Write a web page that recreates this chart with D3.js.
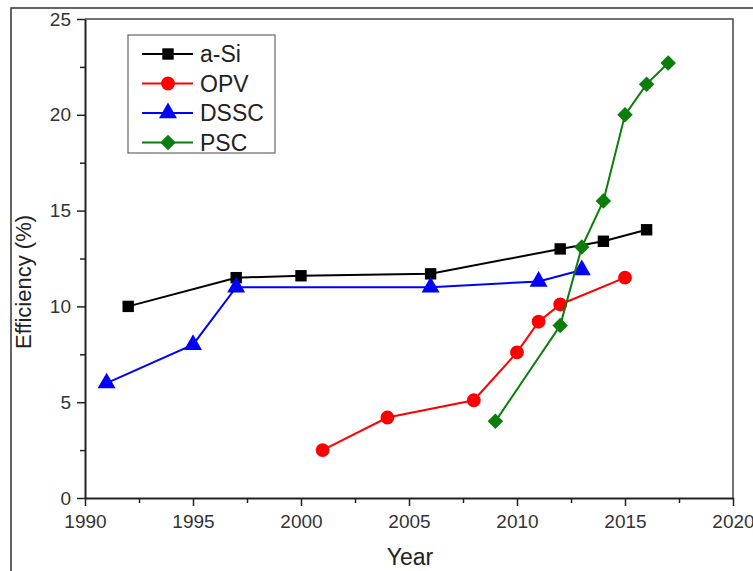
<!DOCTYPE html>
<html>
<head>
<meta charset="utf-8">
<script src="https://cdn.jsdelivr.net/npm/d3@7"></script>
<style>
body { margin: 0; background: #fff; }
text { font-family: Arial, "Liberation Sans", sans-serif; }
</style>
</head>
<body>
<div id="my_dataviz"></div>
<script>
// data
var seriesNames = ["a-Si", "OPV", "DSSC", "PSC"];
var aSiYears = [1992, 1997, 2000, 2006, 2012, 2014, 2016];
var aSiEff   = [10.0, 11.5, 11.6, 11.7, 13.0, 13.4, 14.0];
var opvYears = [2001, 2004, 2008, 2010, 2011, 2012, 2015];
var opvEff   = [2.5, 4.2, 5.1, 7.6, 9.2, 10.1, 11.5];
var dsscYears = [1991, 1995, 1997, 2006, 2011, 2013];
var dsscEff   = [6.0, 8.0, 11.0, 11.0, 11.3, 11.9];
var pscYears = [2009, 2012, 2013, 2014, 2015, 2016, 2017];
var pscEff   = [4.0, 9.0, 13.1, 15.5, 20.0, 21.6, 22.7];
var xTicks = [1990, 1995, 2000, 2005, 2010, 2015, 2020];
var yTicks = [0, 5, 10, 15, 20, 25];

var W = 753, H = 571;
var margin = {top: 19, right: 20, bottom: 73, left: 85},
width = 733 - margin.left,
height = 498 - margin.top;

var root = d3.select('#my_dataviz')
  .append('svg')
    .attr('width', W)
    .attr('height', H);

// outer frame (only left/top visible)
root.append("path")
  .attr("d", "M11," + H + "V8H" + W)
  .attr("fill", "none")
  .attr("stroke", "#333")
  .attr("stroke-width", 1.5);

var svg = root.append('g')
    .attr('transform','translate('+margin.left+','+margin.top+')');

var x = d3.scaleLinear().domain([1990, 2020]).range([0, width]);
var y = d3.scaleLinear().domain([0, 25]).range([height, 0]);

// plot box top/right
svg.append("path")
  .attr("d", "M0,0H" + width + "V" + height)
  .attr("fill", "none")
  .attr("stroke", "#444")
  .attr("stroke-width", 1.5);

// minor ticks
var xMinor = xTicks.slice(0, -1).map(function(d) { return d + 2.5; });
var yMinor = yTicks.slice(0, -1).map(function(d) { return d + 2.5; });

svg.append("g")
  .attr("transform","translate(0,"+height+")")
  .call(d3.axisBottom(x).tickValues(xMinor).tickSize(5).tickFormat(""))
  .call(function(g) { g.select(".domain").remove(); });
svg.append("g")
  .call(d3.axisLeft(y).tickValues(yMinor).tickSize(5).tickFormat(""))
  .call(function(g) { g.select(".domain").remove(); });

var xAxis = svg.append("g")
  .attr("transform","translate(0,"+height+")")
  .call(d3.axisBottom(x).tickValues(xTicks).tickSize(8).tickSizeOuter(0).tickPadding(9).tickFormat(d3.format("d")));
xAxis.selectAll("text").style("font-size","19px").attr("fill","#333");

var yAxis = svg.append("g")
  .call(d3.axisLeft(y).tickValues(yTicks).tickSize(8).tickSizeOuter(0).tickPadding(6));
yAxis.selectAll("text").style("font-size","19px").attr("fill","#333");

svg.selectAll(".domain").attr("stroke","#222").attr("stroke-width",2);
svg.selectAll(".tick line").attr("stroke","#222").attr("stroke-width",1.5);

// axis labels
root.append("text")
  .attr("x", 410).attr("y", 565)
  .style("text-anchor","middle")
  .style("font-size","23px")
  .attr("fill","#222")
  .text("Year");

root.append("text")
  .attr("transform","translate(31,282)rotate(-90)")
  .style("text-anchor","middle")
  .style("font-size","22px")
  .attr("fill","#222")
  .text("Efficiency (%)");

var series = [
  {name: seriesNames[0], xs: aSiYears, ys: aSiEff, color: "#000000", sym: d3.symbolSquare, size: 130, rot: 0},
  {name: seriesNames[1], xs: opvYears, ys: opvEff, color: "#ff0000", sym: d3.symbolCircle, size: 150, rot: 0},
  {name: seriesNames[2], xs: dsscYears, ys: dsscEff, color: "#0000ff", sym: d3.symbolTriangle, size: 140, rot: 0},
  {name: seriesNames[3], xs: pscYears, ys: pscEff, color: "#0a7d0a", sym: d3.symbolSquare, size: 120, rot: 45}
];

var line = d3.line()
  .x(function(d) { return x(d[0]); })
  .y(function(d) { return y(d[1]); });

series.forEach(function(s) {
  var pts = s.xs.map(function(v, i) { return [v, s.ys[i]]; });
  svg.append("path")
    .datum(pts)
    .attr("d", line)
    .attr("fill", "none")
    .attr("stroke", s.color)
    .attr("stroke-width", 2);
  svg.selectAll(null)
    .data(pts)
    .enter()
    .append("path")
      .attr("d", d3.symbol().type(s.sym).size(s.size))
      .attr("transform", function(d) { return "translate(" + x(d[0]) + "," + y(d[1]) + ")rotate(" + s.rot + ")"; })
      .attr("fill", s.color);
});

// legend
var leg = root.append("g").attr("transform","translate(128,35)");
leg.append("rect")
  .attr("width", 147).attr("height", 118)
  .attr("fill", "#fff")
  .attr("stroke", "#666")
  .attr("stroke-width", 1.2);

series.forEach(function(s, i) {
  var yy = 19 + i * 29.5;
  leg.append("line")
    .attr("x1", 14).attr("x2", 65)
    .attr("y1", yy).attr("y2", yy)
    .attr("stroke", s.color).attr("stroke-width", 2);
  leg.append("path")
    .attr("d", d3.symbol().type(s.sym).size(s.size))
    .attr("transform", "translate(40," + yy + ")rotate(" + s.rot + ")")
    .attr("fill", s.color);
  leg.append("text")
    .attr("x", 72).attr("y", yy + 8)
    .style("font-size","23px")
    .attr("fill","#222")
    .text(s.name);
});
</script>
</body>
</html>
